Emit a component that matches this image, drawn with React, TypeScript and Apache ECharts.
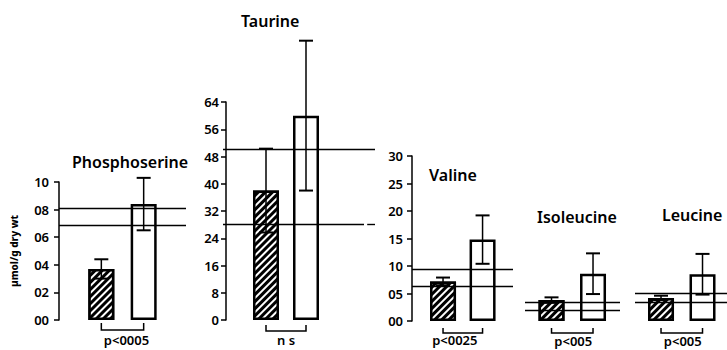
import React, { useEffect, useRef } from "react";
import * as echarts from "echarts";

// ---- data ----
const panels = ["Phosphoserine", "Taurine", "Valine", "Isoleucine", "Leucine"];
const groupPositions = [1, 2]; // hatched bar, open bar
const hatchedMeans = [0.37, 38, 7.2, 3.8, 4.2];
const hatchedSD = [0.07, 12.3, 0.7, 0.5, 0.4];
const openMeans = [0.84, 60, 14.8, 8.6, 8.5];
const openSD = [0.19, 22, 4.4, 3.7, 3.7];
const refUpper = [0.81, 50, 9.5, 3.4, 5.0];
const refLower = [0.69, 28, 6.4, 2.0, 3.5];
const pLabels = ["p<0005", "n s", "p<0025", "p<005", "p<005"];
const psTickLabels = ["00", "02", "04", "06", "08", "10"];
const tauTickLabels = ["0", "8", "16", "24", "32", "40", "48", "56", "64"];
const valTickLabels = ["00", "05", "10", "15", "20", "25", "30"];
const yUnit = "µmol/g dry wt";

// ---- layout (pixels) ----
const FONT = '"Noto Sans", "DejaVu Sans", sans-serif';
const layout = [
  { left: 59, top: 182, width: 127, height: 138, xMin: 0, xMax: 3, yMax: 1.0, yInt: 0.2, show: true, labels: psTickLabels, margin: 10, tx: 72, ty: 162, brk: [3, 10], pY: 340, pDx: 4 },
  { left: 223, top: 102, width: 152, height: 218, xMin: -0.075, xMax: 3.725, yMax: 64, yInt: 8, show: true, labels: tauTickLabels, margin: 4, tx: 241, ty: 21, brk: [5, 11], pY: 340, pDx: 0 },
  { left: 412, top: 156, width: 101, height: 165, xMin: 0.215, xMax: 2.77, yMax: 30, yInt: 5, show: true, labels: valTickLabels, margin: 9, tx: 429, ty: 175, brk: [7, 12], pY: 340, pDx: -8 },
  { left: 525, top: 156, width: 95, height: 165, xMin: 0.361, xMax: 2.65, yMax: 30, yInt: 5, show: false, labels: valTickLabels, margin: 9, tx: 537, ty: 217, brk: [7, 12], pY: 341, pDx: 1 },
  { left: 635, top: 156, width: 92, height: 165, xMin: 0.373, xMax: 2.59, yMax: 30, yInt: 5, show: false, labels: valTickLabels, margin: 9, tx: 662, ty: 215, brk: [7, 12], pY: 341, pDx: 1 },
];

function buildOption() {
  const grid: any[] = [];
  const xAxis: any[] = [];
  const yAxis: any[] = [];
  const series: any[] = [];
  const graphic: any[] = [];

  panels.forEach((name, i) => {
    const L = layout[i];
    grid.push({ left: L.left, top: L.top, width: L.width, height: L.height, containLabel: false });
    xAxis.push({ type: "value", gridIndex: i, min: L.xMin, max: L.xMax, show: false });
    const labels = L.labels;
    yAxis.push({
      type: "value",
      gridIndex: i,
      min: 0,
      max: L.yMax,
      interval: L.yInt,
      show: L.show,
      splitLine: { show: false },
      axisLine: { show: true, lineStyle: { color: "#000", width: 1.5 } },
      axisTick: { show: true, length: 5, lineStyle: { color: "#000", width: 1.5 } },
      axisLabel: {
        margin: L.margin,
        color: "#000",
        fontFamily: FONT,
        fontWeight: 600,
        fontSize: 13,
        formatter: (_v: number, idx: number) => labels[idx] ?? "",
      },
      ...(i === 0
        ? {
            name: yUnit,
            nameLocation: "middle",
            nameRotate: 90,
            nameGap: 40,
            nameTextStyle: { color: "#000", fontFamily: FONT, fontWeight: 800, fontSize: 10 },
          }
        : {}),
    });

    const refData: any[] =
      i === 1
        ? [
            { yAxis: refUpper[i] },
            [{ coord: [L.xMin, refLower[i]] }, { coord: [3.45, refLower[i]] }],
            [{ coord: [3.53, refLower[i]] }, { coord: [L.xMax, refLower[i]] }],
          ]
        : [{ yAxis: refUpper[i] }, { yAxis: refLower[i] }];

    series.push({
      type: "bar",
      xAxisIndex: i,
      yAxisIndex: i,
      barWidth: 26,
      data: [
        {
          value: [groupPositions[0], hatchedMeans[i]],
          itemStyle: {
            color: "#000",
            borderColor: "#000",
            borderWidth: 2.5,
            decal: {
              symbol: "rect",
              symbolSize: 1,
              color: "#fff",
              dashArrayX: [1, 0],
              dashArrayY: [1.2, 2.6],
              rotation: -Math.PI / 4,
            },
          },
        },
        {
          value: [groupPositions[1], openMeans[i]],
          itemStyle: { color: "#fff", borderColor: "#000", borderWidth: 2.5 },
        },
      ],
      markLine: {
        silent: true,
        symbol: ["none", "none"],
        label: { show: false },
        lineStyle: { color: "#000", width: 1.4, type: "solid" },
        data: refData,
      },
      z: 2,
    });

    series.push({
      type: "custom",
      xAxisIndex: i,
      yAxisIndex: i,
      clip: false,
      z: 3,
      encode: { x: 0, y: 1 },
      data: [
        [groupPositions[0], hatchedMeans[i], hatchedSD[i]],
        [groupPositions[1], openMeans[i], openSD[i]],
      ],
      renderItem: (_p: any, api: any) => {
        const x = api.value(0);
        const m = api.value(1);
        const s = api.value(2);
        const top = api.coord([x, m + s]);
        const bot = api.coord([x, m - s]);
        const cw = 7;
        const st = { stroke: "#000", lineWidth: 1.5 };
        return {
          type: "group",
          children: [
            { type: "line", shape: { x1: top[0], y1: top[1], x2: bot[0], y2: bot[1] }, style: st },
            { type: "line", shape: { x1: top[0] - cw, y1: top[1], x2: top[0] + cw, y2: top[1] }, style: { ...st, lineWidth: 2 } },
            { type: "line", shape: { x1: bot[0] - cw, y1: bot[1], x2: bot[0] + cw, y2: bot[1] }, style: { ...st, lineWidth: 2 } },
          ],
        };
      },
    });

    series.push({
      type: "custom",
      xAxisIndex: i,
      yAxisIndex: i,
      clip: false,
      z: 3,
      encode: { x: [0, 1], y: 2 },
      data: [[groupPositions[0], groupPositions[1], 0]],
      renderItem: (_p: any, api: any) => {
        const a = api.coord([api.value(0), api.value(2)]);
        const b = api.coord([api.value(1), api.value(2)]);
        const base = a[1];
        const [o1, o2] = L.brk;
        return {
          type: "group",
          children: [
            {
              type: "polyline",
              shape: { points: [[a[0], base + o1], [a[0], base + o2], [b[0], base + o2], [b[0], base + o1]] },
              style: { stroke: "#000", lineWidth: 1.5, fill: null },
            },
            {
              type: "text",
              x: (a[0] + b[0]) / 2 + L.pDx,
              y: L.pY,
              style: {
                text: pLabels[i],
                fill: "#000",
                font: `600 13px ${FONT}`,
                align: "center",
                verticalAlign: "middle",
              },
            },
          ],
        };
      },
    });

    graphic.push({
      type: "text",
      x: L.tx,
      y: L.ty,
      style: {
        text: name,
        fill: "#000",
        font: `600 16px ${FONT}`,
        align: "left",
        verticalAlign: "middle",
      },
    });
  });

  return {
    animation: false,
    backgroundColor: "#fff",
    grid,
    xAxis,
    yAxis,
    series,
    graphic,
  };
}

export default function App() {
  const ref = useRef<HTMLDivElement>(null);
  useEffect(() => {
    if (!ref.current) return;
    const chart = echarts.init(ref.current, undefined, { renderer: "svg" });
    chart.setOption(buildOption() as any);
    return () => chart.dispose();
  }, []);
  return (
    <div
      ref={ref}
      style={{ position: "fixed", left: 0, top: 0, width: 727, height: 350, background: "#fff" }}
    />
  );
}
